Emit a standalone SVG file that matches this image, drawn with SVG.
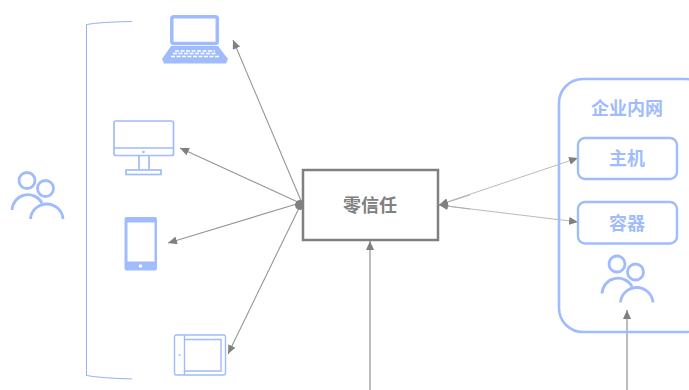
<svg xmlns="http://www.w3.org/2000/svg" width="689" height="390" viewBox="0 0 689 390">
<style>
.b{fill:none;stroke:#a0bcfd;stroke-width:2.4}
.n{stroke-width:1.700}
.f{fill:#a0bcfd;stroke:none}
.t{font-family:"Noto Sans CJK SC","Liberation Sans",sans-serif;font-weight:700;text-anchor:middle}
.c{fill:none;stroke:#969696;stroke-width:1.100}
.d{fill:none;stroke:#a8a8a8;stroke-width:.8}
.v{fill:none;stroke:#a6a6a6;stroke-width:1.500}
.w{stroke-width:2.800}
</style>
<defs>
<marker id="a" markerUnits="userSpaceOnUse" markerWidth="10" markerHeight="8" refX="9" refY="4" orient="auto"><path d="M0 0L9 4L0 8Z" fill="#808080"/></marker>
<g id="u"><circle cx="27" cy="180.500" r="8" class="b w"/><circle cx="45.500" cy="188.500" r="8" class="b w"/><path d="M12 210A16 16 0 0 1 42 203M30.500 219A16.300 16.300 0 0 1 63 219" class="b w"/></g>
</defs>
<rect width="689" height="390" fill="#fff"/>
<g id="connectors">
<path class="c" marker-end="url(#a)" d="M302 203L233 40"/>
<path class="c" marker-end="url(#a)" d="M300 203L180 148"/>
<path class="c" marker-end="url(#a)" d="M300 203L168 243"/>
<path class="c" marker-end="url(#a)" d="M301 204L228 354"/>
<path class="d" marker-end="url(#a)" d="M438 205L578 158"/>
<path class="d" marker-end="url(#a)" d="M438 205L578 222"/>
<path class="d" marker-end="url(#a)" d="M470 195L439 205"/>
<path class="d" marker-end="url(#a)" d="M470 209L439 205"/>
<path class="v" marker-end="url(#a)" d="M370 390V241"/>
<path class="v" marker-end="url(#a)" d="M627 390V310"/>
<circle cx="300" cy="205" r="5" fill="#808080"/>
</g>
<g id="bracket"><path d="M132 21.500Q100 22 86.500 24.500V375.500Q100 378 132 379" fill="none" stroke="#96b2ee" stroke-width="1"/></g>
<g id="laptop">
<rect x="171.800" y="16.700" width="45.500" height="26.800" rx="2" fill="none" stroke="#a0bcfd" stroke-width="3.500"/>
<path class="f" d="M171 46H218L228 59L226 63.500H164L162 59Z"/>
<path d="M175 51H215M173 53.500H217M171 56.500H219" stroke="#fff" stroke-width="1.600" stroke-dasharray="4 1.500"/>
</g>
<g id="desktop">
<rect x="114" y="121" width="59.500" height="34.500" rx="2" class="b n"/>
<path d="M114 148H173M139 156V170M149 156V170" class="b n"/>
<rect x="126" y="170" width="35" height="4.500" class="b n"/>
<circle cx="143.500" cy="152" r="1.300" class="f"/>
</g>
<g id="phone">
<rect x="124.500" y="217" width="32.500" height="53.500" rx="2" class="f"/>
<rect x="127.500" y="222.500" width="27" height="39" fill="#fff"/>
<circle cx="140.500" cy="266" r="1.800" fill="#fff"/>
</g>
<g id="tablet">
<rect x="174.500" y="335" width="51" height="40" rx="2" class="b n" style="stroke-width:1.400"/>
<path d="M184.500 335V375M184.500 339.500H221V371H184.500" class="b n" style="stroke-width:1.400"/>
<circle cx="179.500" cy="355" r="1" class="f"/>
</g>
<g id="users-left"><use href="#u"/></g>
<g id="zero-trust">
<rect x="303" y="170" width="135" height="70" fill="#fff" stroke="#808080" stroke-width="2.500"/>
<text x="370" y="211.500" class="t" font-size="18" fill="#808080">零信任</text>
</g>
<g id="intranet">
<rect x="559" y="79" width="150" height="253" rx="24" class="b" style="stroke-width:2.600"/>
<text x="627" y="114.500" class="t" font-size="18" fill="#a0bcfd">企业内网</text>
</g>
<g id="host"><rect x="578" y="138" width="99" height="41" rx="7" class="b" style="fill:#fff"/><text x="627" y="164.500" class="t" font-size="18" fill="#a0bcfd">主机</text></g>
<g id="container"><rect x="578" y="202" width="99" height="41.500" rx="7" class="b" style="fill:#fff"/><text x="627" y="229.500" class="t" font-size="18" fill="#a0bcfd">容器</text></g>
<g id="users-right"><use href="#u" x="590" y="83.500"/></g>
</svg>
